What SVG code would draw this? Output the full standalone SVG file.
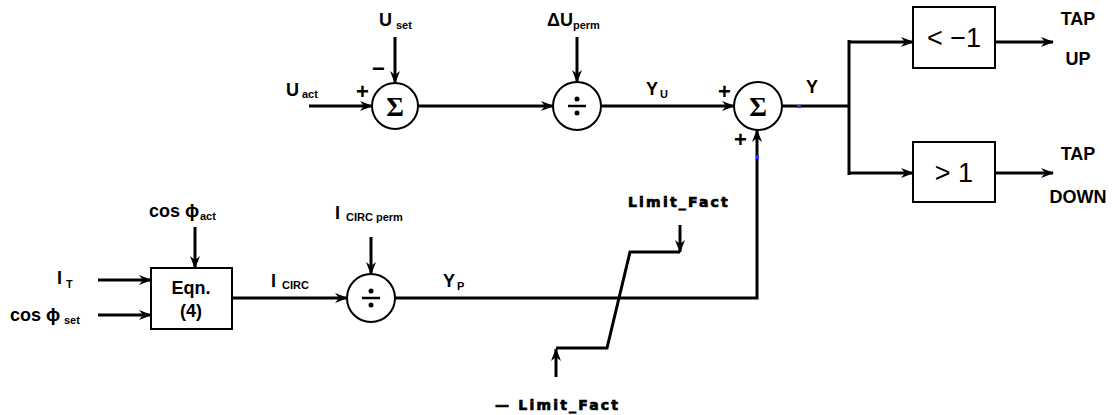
<svg xmlns="http://www.w3.org/2000/svg" width="1112" height="415" viewBox="0 0 1112 415">
<defs>
<marker id="arr" markerUnits="userSpaceOnUse" markerWidth="14" markerHeight="10" refX="12" refY="5" orient="auto">
<path d="M0,0 L13,5 L0,10 L4,5 z" fill="#000"/>
</marker>
<style>
.ln{fill:none;stroke:#000;stroke-width:3}
.ar{fill:none;stroke:#000;stroke-width:3;marker-end:url(#arr)}
.nd{fill:#fff;stroke:#000;stroke-width:2}
.t{font-family:"Liberation Sans",Arial,sans-serif;font-weight:bold;font-size:18px;fill:#000}
.s{font-family:"Liberation Sans",Arial,sans-serif;font-weight:bold;font-size:11px;fill:#000}
.sg{font-family:"Liberation Serif","Times New Roman",serif;font-weight:bold;font-size:27px;fill:#000}
.bx{font-family:"Liberation Sans",Arial,sans-serif;font-size:27px;fill:#000}
.pm{font-family:"Liberation Sans",Arial,sans-serif;font-weight:bold;font-size:22px;fill:#000}
.lf{font-family:"DejaVu Sans",sans-serif;font-weight:bold;font-size:14px;letter-spacing:2.2px;fill:#000;stroke:#000;stroke-width:0.7}
</style>
</defs>
<rect width="1112" height="415" fill="#fff"/>
<g id="connectors">
<line class="ar" x1="309" y1="106" x2="372" y2="106"/>
<line class="ar" x1="395" y1="37" x2="395" y2="83"/>
<line class="ar" x1="418" y1="106" x2="553" y2="106"/>
<line class="ar" x1="577" y1="37" x2="577" y2="82"/>
<line class="ar" x1="601" y1="106" x2="734" y2="106"/>
<line class="ln" x1="782" y1="106" x2="849" y2="106"/>
<line class="ln" x1="849" y1="40" x2="849" y2="175"/>
<line class="ar" x1="848" y1="42" x2="913" y2="42"/>
<line class="ar" x1="848" y1="173" x2="913" y2="173"/>
<line class="ar" x1="995" y1="42" x2="1053" y2="42"/>
<line class="ar" x1="995" y1="173" x2="1053" y2="173"/>
<line class="ar" x1="98" y1="280" x2="151" y2="280"/>
<line class="ar" x1="98" y1="315" x2="151" y2="315"/>
<line class="ar" x1="195" y1="227" x2="195" y2="268"/>
<line class="ar" x1="232" y1="298" x2="347" y2="298"/>
<line class="ar" x1="371" y1="237" x2="371" y2="274"/>
<path class="ar" d="M395,298 H757 V130"/>
<path class="ln" d="M556,348 H607 L630,252 H680"/>
<line class="ar" x1="680" y1="225" x2="680" y2="252"/>
<line class="ar" x1="556" y1="377" x2="556" y2="349"/>
<rect x="797" y="105" width="4" height="3" fill="#3030ff"/>
<rect x="756" y="155" width="3" height="4" fill="#3030ff"/>
</g>
<g id="sum1">
<circle class="nd" cx="395" cy="106" r="23"/>
<text class="sg" x="395" y="116" text-anchor="middle">Σ</text>
</g>
<g id="div1">
<circle class="nd" cx="577" cy="106" r="24"/>
<line x1="568" y1="106" x2="586" y2="106" stroke="#000" stroke-width="2.5"/>
<circle cx="577" cy="99" r="2.5" fill="#000"/>
<circle cx="577" cy="113" r="2.5" fill="#000"/>
</g>
<g id="sum2">
<circle class="nd" cx="758" cy="106" r="24"/>
<text class="sg" x="758" y="116" text-anchor="middle">Σ</text>
</g>
<g id="cmp-up">
<rect class="nd" x="913" y="7" width="82" height="61"/>
<text class="bx" x="954" y="47" text-anchor="middle">&lt; −1</text>
</g>
<g id="cmp-down">
<rect class="nd" x="913" y="142" width="82" height="60"/>
<text class="bx" x="954" y="182" text-anchor="middle">&gt; 1</text>
</g>
<g id="eqn">
<rect class="nd" x="151" y="268" width="81" height="61"/>
<text class="t" x="191" y="294" text-anchor="middle" font-size="18">Eqn.</text>
<text class="t" x="191" y="317" text-anchor="middle" font-size="16">(4)</text>
</g>
<g id="div2">
<circle class="nd" cx="371" cy="298" r="24"/>
<line x1="362" y1="298" x2="380" y2="298" stroke="#000" stroke-width="2.5"/>
<circle cx="371" cy="291" r="2.5" fill="#000"/>
<circle cx="371" cy="305" r="2.5" fill="#000"/>
</g>
<g id="labels">
<text class="t" x="286" y="96">U</text><text class="s" x="302" y="98">act</text>
<text class="pm" x="356" y="99">+</text>
<text class="pm" x="372" y="76">−</text>
<text class="t" x="379" y="26">U</text><text class="s" x="396" y="29">set</text>
<text class="t" x="547" y="26">ΔU</text><text class="s" x="573" y="29">perm</text>
<text class="t" x="646" y="95">Y</text><text class="s" x="660" y="98">U</text>
<text class="pm" x="718" y="99">+</text>
<text class="pm" x="734" y="147">+</text>
<text class="t" x="806" y="93">Y</text>
<text class="t" x="1078" y="25" text-anchor="middle" font-size="15">TAP</text>
<text class="t" x="1078" y="65" text-anchor="middle" font-size="15">UP</text>
<text class="t" x="1078" y="160" text-anchor="middle" font-size="15">TAP</text>
<text class="t" x="1078" y="203" text-anchor="middle" font-size="15">DOWN</text>
<text class="t" x="149" y="217" font-size="15">cos <tspan font-size="19">ϕ</tspan></text><text class="s" x="200" y="220">act</text>
<text class="t" x="57" y="284" font-size="18">I</text><text class="s" x="66" y="288">T</text>
<text class="t" x="10" y="321" font-size="15">cos <tspan font-size="19">ϕ</tspan></text><text class="s" x="64" y="324">set</text>
<text class="t" x="271" y="287" font-size="18">I</text><text class="s" x="282" y="289">CIRC</text>
<text class="t" x="335" y="219" font-size="18">I</text><text class="s" x="346" y="221">CIRC perm</text>
<text class="t" x="443" y="287">Y</text><text class="s" x="457" y="290">P</text>
<text class="lf" x="628" y="207">Limit_Fact</text>
<text class="lf" x="495" y="410">— Limit_Fact</text>
</g>
</svg>
